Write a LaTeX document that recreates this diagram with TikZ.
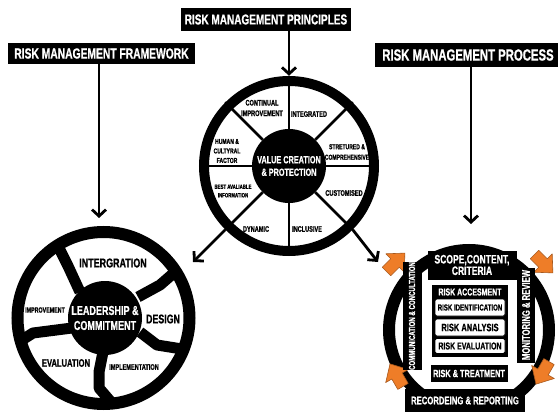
\documentclass[tikz,border=0pt]{standalone}
\usepackage{fontspec}
\setmainfont{Liberation Sans}
\newfontfamily\cf[FakeStretch=0.70, FakeBold=0.8]{Liberation Sans Bold}
\usetikzlibrary{arrows.meta,calc}
\newcommand\myfs[2]{\fontsize{#1}{#2}\selectfont}
\definecolor{orng}{RGB}{238,125,40}
\tikzset{
  lbl/.style={align=center, inner sep=0pt, text=black},
  wlbl/.style={align=center, inner sep=0pt, text=white},
  blackbox/.style={fill=black, text=white, align=center, inner sep=0pt},
  whitebox/.style={fill=white, draw=black, line width=0.8pt, text=black, align=center, inner sep=0pt, rounded corners=1.5pt},
  arr/.style={line width=2.8pt, -{Straight Barb[length=6.5pt,width=14pt]}},
  spoke/.style={line width=11pt, line join=round, line cap=butt},
  orarrow/.style={fill=orng, draw=orng!70!black, line width=0.6pt, line join=round}
}
\begin{document}
\begin{tikzpicture}[x=1pt,y=-1pt, every node/.style={font=\cf}]
\useasboundingbox (0,0) rectangle (558,412);
\fill[white] (0,0) rectangle (558,412);

% ---------- titles ----------
\node[blackbox, minimum width=170pt, minimum height=23pt, font=\cf\myfs{14.3}{15}] (ptitle) at (266,19.5) {RISK MANAGEMENT PRINCIPLES};
\node[blackbox, minimum width=187pt, minimum height=21pt, font=\cf\myfs{14.7}{15}] (fwtitle) at (101.5,53.5) {RISK MANAGEMENT FRAMEWORK};
\node[blackbox, minimum width=186pt, minimum height=24pt, font=\cf\myfs{16.2}{17}] (prtitle) at (468,55) {RISK MANAGEMENT PROCESS};

% ---------- principles wheel ----------
\node[circle, minimum size=180pt, inner sep=0pt] (pwheel) at (289,166) {};
\draw[line width=10pt] (pwheel.center) circle (85pt);
\node[circle, fill=black, minimum size=74pt, wlbl, font=\cf\myfs{10.4}{12.5}] (phub) at (289,166) {VALUE CREATION\\\& PROTECTION};
\foreach \a in {0,45,...,315} \draw[line width=2.5pt] (phub.\a) -- (pwheel.\a);
\node[lbl, font=\cf\myfs{8}{10.5}] (pcont) at (262,108) {CONTINUAL\\IMPROVEMENT};
\node[lbl, font=\cf\myfs{8}{10}] (pint) at (309,114) {INTEGRATED};
\node[lbl, font=\cf\myfs{7.2}{10.5}] (pstr) at (347,152) {STRETURED \&\\COMPREHENSIVE};
\node[lbl, font=\cf\myfs{8}{10}] (pcus) at (344,193) {CUSTOMISED};
\node[lbl, font=\cf\myfs{8}{10}] (pinc) at (307,229) {INCLUSIVE};
\node[lbl, font=\cf\myfs{8}{10}] (pdyn) at (256,229) {DYNAMIC};
\node[lbl, font=\cf\myfs{6.2}{8.5}] (pbest) at (233,191) {BEST AVALIABLE\\INFORMATION};
\node[lbl, font=\cf\myfs{7.2}{9.5}] (phum) at (227,151) {HUMAN \&\\CULTYRAL\\FACTOR};

% ---------- framework wheel ----------
\node[circle, minimum size=184pt, inner sep=0pt] (fw) at (103.5,318) {};
\draw[line width=12pt] (fw.center) circle (86pt);
\draw[spoke] (80,292) -- (68,266) -- (58,246);
\draw[spoke] (138,297) -- (160,285) -- (175,272);
\draw[spoke] (140,332) -- (157,345) -- (182,349);
\draw[spoke] (103,352) -- (99,372) -- (99,388) -- (111,402);
\draw[spoke] (72,328) -- (33,333) -- (22,340);
\node[circle, fill=black, minimum size=74pt, wlbl, font=\cf\myfs{12.9}{15}] (fhub) at (105,318) {LEADERSHIP \&\\COMMITMENT};
\node[lbl, font=\cf\myfs{12.8}{13}] (fint) at (113,263) {INTERGRATION};
\node[lbl, font=\cf\myfs{7.6}{9}] (fimp) at (45,310) {IMPROVEMENT};
\node[lbl, font=\cf\myfs{12.6}{13}] (fdes) at (163,319) {DESIGN};
\node[lbl, font=\cf\myfs{10.8}{12}] (feva) at (66,363) {EVALUATION};
\node[lbl, font=\cf\myfs{8}{9}] (fimpl) at (134,367) {IMPLEMENTATION};

% ---------- process wheel ----------
\node[circle, minimum size=172pt, inner sep=0pt] (pr) at (469,330) {};
\draw[line width=12pt] (pr.center) circle (80pt);
\foreach \px/\py/\dir in {395/263/45, 543/263/-45, 543/372/-120, 397/376/120}{
  \begin{scope}[shift={(\px,\py)}, rotate=\dir]
    \filldraw[orarrow] (14,0) -- (0,13) -- (0,6) -- (-12,6) -- (-12,-6) -- (0,-6) -- (0,-13) -- cycle;
  \end{scope}
}
\node[blackbox, minimum width=89pt, minimum height=29pt, font=\cf\myfs{12.2}{11.5}] (scope) at (472,265) {SCOPE,CONTENT,\\CRITERIA};
\node[blackbox, rotate=90, minimum width=108pt, minimum height=19pt, font=\cf\myfs{8.7}{9}] (comm) at (412,316) {COMMUNICATION \& CONCULTATION};
\node[blackbox, rotate=90, minimum width=95pt, minimum height=18pt, font=\cf\myfs{11}{11}] (mon) at (526,315) {MONITORING \& REVIEW};
\node[fill=black, minimum width=76pt, minimum height=72pt, inner sep=0pt] (assess) at (470,321) {};
\node[wlbl, font=\cf\myfs{10}{10}] (asst) at (470,292) {RISK ACCESMENT};
\node[whitebox, minimum width=70pt, minimum height=17pt, font=\cf\myfs{8.7}{9}] (ident) at (470,307.5) {RISK IDENTIFICATION};
\node[whitebox, minimum width=70pt, minimum height=17pt, font=\cf\myfs{10.7}{11}] (anal) at (470,327.5) {RISK ANALYSIS};
\node[whitebox, minimum width=70pt, minimum height=15pt, font=\cf\myfs{10}{10}] (evalb) at (470,346) {RISK EVALUATION};
\node[blackbox, minimum width=77pt, minimum height=17pt, font=\cf\myfs{10.5}{11}] (treat) at (469,373.5) {RISK \& TREATMENT};
\node[blackbox, minimum width=120pt, minimum height=24pt, font=\cf\myfs{11}{11}] (rec) at (465,400.5) {RECORDEING \& REPORTING};

% ---------- arrows ----------
\coordinate (fwtip) at (99,218);
\coordinate (prtip) at (471,224);
\coordinate (pl) at (193,262);
\coordinate (prr) at (378,262);
\draw[arr] (ptitle.south -| pwheel.north) -- (pwheel.north);
\draw[arr] (fwtitle.south -| fwtip) -- (fwtip);
\draw[arr] (prtitle.south -| prtip) -- (prtip);
\draw[arr] (pwheel.225) -- (pl);
\draw[arr] (pwheel.-45) -- (prr);
\end{tikzpicture}
\end{document}
